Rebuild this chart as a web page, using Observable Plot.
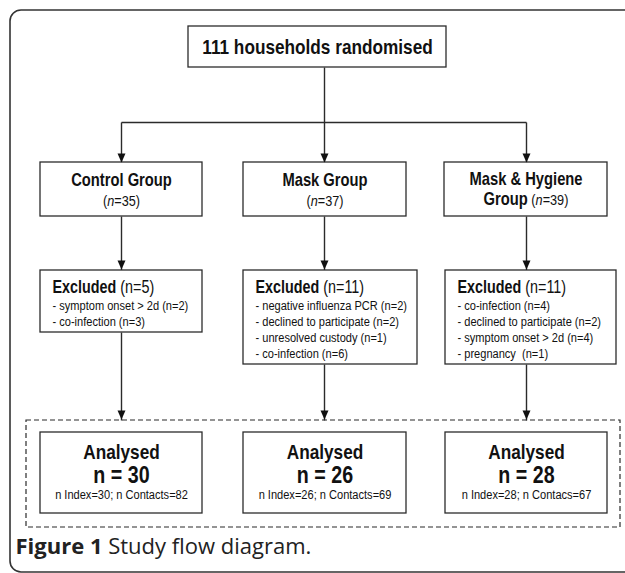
<!DOCTYPE html>
<html><head><meta charset="utf-8">
<script src="https://cdn.jsdelivr.net/npm/d3@7"></script>
<script src="https://cdn.jsdelivr.net/npm/@observablehq/plot@0.6"></script>
<style>body{margin:0;background:#fff}</style>
</head><body><div id="chart"></div>
<script>
// ---------------- data ----------------
const randomisedN = 111;
const randomisedLabel = "households randomised";
const groups = ["Control Group", "Mask Group", "Mask & Hygiene Group"];
const groupN = [35, 37, 39];
const excludedN = [5, 11, 11];
const excludedReasons = [
  ["symptom onset > 2d (n=2)", "co-infection (n=3)"],
  ["negative influenza PCR (n=2)", "declined to participate (n=2)", "unresolved custody (n=1)", "co-infection (n=6)"],
  ["co-infection (n=4)", "declined to participate (n=2)", "symptom onset > 2d (n=4)", "pregnancy  (n=1)"]
];
const analysedN = [30, 26, 28];
const indexN = [30, 26, 28];
const contactsN = [82, 69, 67];
const contactsWord = ["Contacts", "Contacts", "Contacs"];
const captionBold = "Figure 1";
const captionText = "Study flow diagram.";

// ---------------- layout (pixels) ----------------
const W = 625, H = 573;
const L = {
  frame: {x1: 10, x2: 660, y1: 10, y2: 572},
  top: {x1: 188, x2: 446, y1: 26, y2: 67, tx: 317, ty: 47},
  trunkY: 122,
  cx: [121, 324, 526],
  group: {x1: [40, 243, 444], x2: [202, 406, 607], y1: 162, y2: 216},
  excl: {x1: [40, 243, 445], x2: [202, 417, 616], y1: 270, y2: [332, 364, 364]},
  dash: {x1: 26, x2: 620, y1: 420, y2: 527},
  anal: {x1: [40, 243, 445], x2: [202, 406, 607], y1: 432, y2: 513},
  caption: {x: 15, y: 546}
};
const NARROW_SCALE = 0.82; // Arial Narrow ~ Arial compressed horizontally
const SANS = "'Liberation Sans', Arial, sans-serif";
const INK = "#2b2b2b";

// ---------------- derived mark tables ----------------
const boxes = [{x1: L.top.x1, x2: L.top.x2, y1: L.top.y1, y2: L.top.y2}];
groups.forEach((g, i) => {
  boxes.push({x1: L.group.x1[i], x2: L.group.x2[i], y1: L.group.y1, y2: L.group.y2});
  boxes.push({x1: L.excl.x1[i], x2: L.excl.x2[i], y1: L.excl.y1, y2: L.excl.y2[i]});
  boxes.push({x1: L.anal.x1[i], x2: L.anal.x2[i], y1: L.anal.y1, y2: L.anal.y2});
});

const links = [
  {x1: L.cx[1], y1: L.top.y2, x2: L.cx[1], y2: L.trunkY},
  {x1: L.cx[0], y1: L.trunkY, x2: L.cx[2], y2: L.trunkY}
];
const tips = [];
groups.forEach((g, i) => {
  links.push({x1: L.cx[i], y1: L.trunkY, x2: L.cx[i], y2: L.group.y1});
  links.push({x1: L.cx[i], y1: L.group.y2, x2: L.cx[i], y2: L.excl.y1});
  links.push({x1: L.cx[i], y1: L.excl.y2[i], x2: L.cx[i], y2: L.dash.y1});
  tips.push({x: L.cx[i], y: L.group.y1}, {x: L.cx[i], y: L.excl.y1 - 1}, {x: L.cx[i], y: L.dash.y1 - 1});
});

// rich text lines: segments {t, b, i}
const richMid = [];
const richStart = [];
groups.forEach((g, i) => {
  const cxBox = (L.group.x1[i] + L.group.x2[i]) / 2;
  const words = g.split(" ");
  const nSegs = [{t: "("}, {t: "n", i: true}, {t: "=" + groupN[i] + ")"}];
  if (g.length > 14) {
    const last = words.pop();
    richMid.push({x: cxBox, y: 179, size: 18, segs: [{t: words.join(" "), b: true}]});
    richMid.push({x: cxBox, y: 200, size: 15.5, segs: [{t: last, b: true, size: 18}, {t: " "}, ...nSegs]});
  } else {
    richMid.push({x: cxBox, y: 180, size: 18, segs: [{t: g, b: true}]});
    richMid.push({x: cxBox, y: 201, size: 15.5, segs: nSegs});
  }
  const ex = L.excl.x1[i] + 12;
  richStart.push({x: ex, y: 287, size: 17.5, segs: [{t: "Excluded", b: true}, {t: " (n=" + excludedN[i] + ")"}]});
  excludedReasons[i].forEach((r, k) => {
    richStart.push({x: ex, y: 305 + 16 * k, size: 13.5, segs: [{t: "- " + r}]});
  });
  const ax = (L.anal.x1[i] + L.anal.x2[i]) / 2;
  richMid.push({x: ax, y: 452, size: 21, segs: [{t: "Analysed", b: true}]});
  richMid.push({x: ax, y: 475, size: 24, segs: [{t: "n = " + analysedN[i], b: true}]});
  richMid.push({x: ax, y: 494, size: 13.5, segs: [{t: "n Index=" + indexN[i] + "; n " + contactsWord[i] + "=" + contactsN[i]}]});
});
richMid.push({x: L.top.tx, y: L.top.ty, size: 21, segs: [{t: randomisedN + " " + randomisedLabel, b: true}]});
const captionRows = [{x: L.caption.x, y: L.caption.y, size: 22, segs: [{t: captionBold, b: true}, {t: " " + captionText}]}];

const arrowHead = {draw(ctx) { ctx.moveTo(0, 0); ctx.lineTo(-4, -9); ctx.lineTo(4, -9); ctx.closePath(); }};
const plain = d => d.segs.map(s => s.t).join("");

const chart = Plot.plot({
  width: W, height: H,
  margin: 0,
  x: {domain: [0, W], range: [0, W], axis: null},
  y: {domain: [0, H], range: [0, H], axis: null},
  style: {fontFamily: SANS, background: "#fff"},
  marks: [
    Plot.rect([L.frame], {x1: "x1", x2: "x2", y1: "y1", y2: "y2", rx: 11, fill: "none", stroke: "#333", strokeWidth: 1.6}),
    Plot.rect([L.dash], {x1: "x1", x2: "x2", y1: "y1", y2: "y2", fill: "none", stroke: INK, strokeWidth: 1.2, strokeDasharray: "5,3"}),
    Plot.link(links, {x1: "x1", y1: "y1", x2: "x2", y2: "y2", stroke: INK, strokeWidth: 1.4}),
    Plot.rect(boxes, {x1: "x1", x2: "x2", y1: "y1", y2: "y2", fill: "#fff", stroke: INK, strokeWidth: 1.3}),
    Plot.dot(tips, {x: "x", y: "y", symbol: arrowHead, r: 4, fill: "#111", stroke: "none"}),
    Plot.text(richMid, {x: "x", y: "y", text: plain, fontSize: "size", textAnchor: "middle", fill: "#111"}),
    Plot.text(richStart, {x: "x", y: "y", text: plain, fontSize: "size", textAnchor: "start", fill: "#111"}),
    Plot.text(captionRows, {x: "x", y: "y", text: plain, fontSize: "size", textAnchor: "start", fill: "#222", fontFamily: "'Open Sans', 'Noto Sans', sans-serif"})
  ]
});

const textGroups = d3.select(chart).selectAll('g[aria-label="text"]').nodes();
function enrich(g, rows, narrow) {
  d3.select(g).selectAll("text").each(function(idx) {
    const row = rows[idx];
    if (!row) return;
    const el = d3.select(this);
    el.text(null);
    row.segs.forEach(s => {
      const t = el.append("tspan").text(s.t);
      if (s.b) t.attr("font-weight", "bold");
      if (s.i) t.attr("font-style", "italic");
      if (s.size) t.attr("font-size", s.size);
    });
    if (narrow) {
      const tr = el.attr("transform");
      if (tr) el.attr("transform", tr + ` scale(${NARROW_SCALE},1)`);
      else {
        const x = +el.attr("x") || 0, y = +el.attr("y") || 0;
        el.attr("transform", `translate(${x},${y}) scale(${NARROW_SCALE},1) translate(${-x},${-y})`);
      }
    }
  });
}
enrich(textGroups[0], richMid, true);
enrich(textGroups[1], richStart, true);
enrich(textGroups[2], captionRows, false);

document.getElementById("chart").appendChild(chart);
</script>
</body></html>
